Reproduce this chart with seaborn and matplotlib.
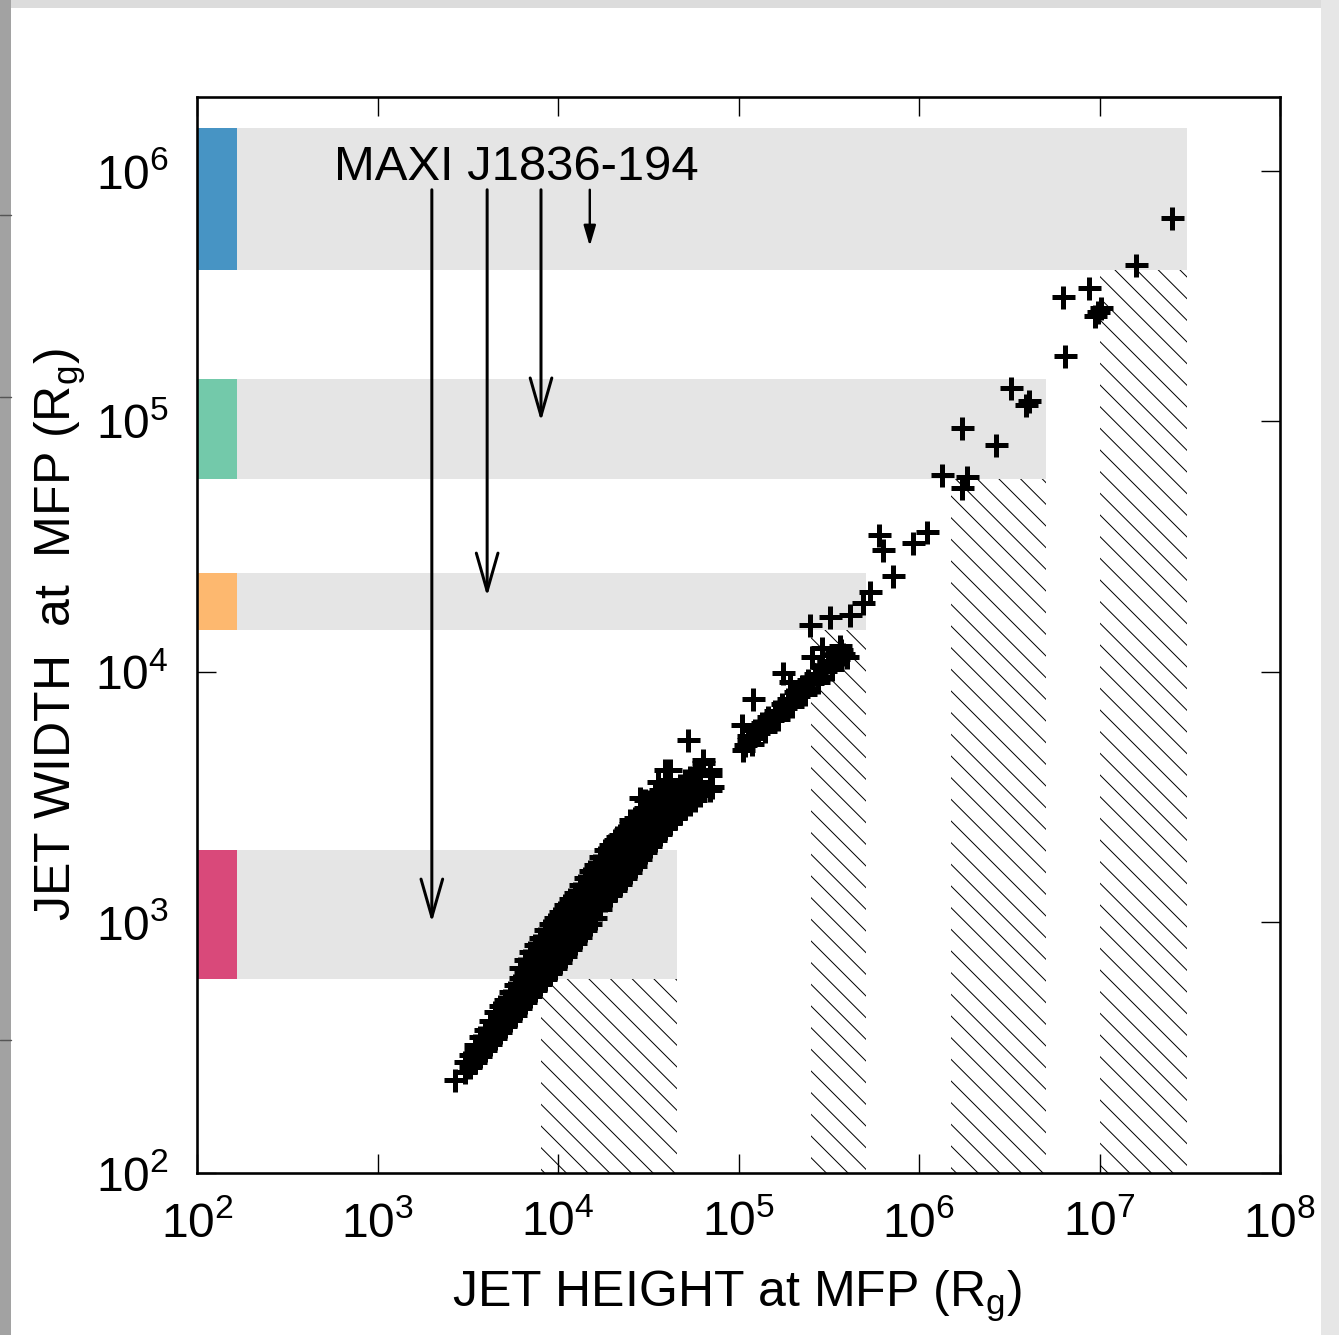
import numpy as np
import pandas as pd
import matplotlib
matplotlib.use("Agg")
import matplotlib.pyplot as plt
from matplotlib.patches import Rectangle
from matplotlib.lines import Line2D
from matplotlib.ticker import LogLocator, NullLocator
import seaborn as sns

# ---------------- data ----------------
# main cluster (jet height, jet width) in R_g
height_a = [2.69e3,
            3.05e3, 3.05e3,
            3.47e3, 3.47e3, 3.47e3,
            3.94e3, 3.94e3, 3.94e3,
            4.48e3, 4.48e3, 4.48e3,
            5.08e3, 5.08e3, 5.08e3,
            5.78e3, 5.78e3, 5.78e3,
            6.56e3, 6.56e3, 6.56e3, 6.56e3,
            7.46e3, 7.46e3, 7.46e3, 7.46e3,
            8.47e3, 8.47e3, 8.47e3, 8.47e3,
            9.62e3, 9.62e3, 9.62e3, 9.62e3,
            1.094e4, 1.094e4, 1.094e4, 1.094e4,
            1.24e4, 1.24e4, 1.24e4, 1.24e4,
            1.41e4, 1.41e4, 1.41e4, 1.41e4,
            1.60e4, 1.60e4, 1.60e4, 1.60e4,
            1.82e4, 1.82e4, 1.82e4, 1.82e4,
            2.07e4, 2.07e4, 2.07e4, 2.07e4,
            2.35e4, 2.35e4, 2.35e4, 2.35e4,
            2.67e4, 2.67e4, 2.67e4, 2.67e4,
            3.03e4, 3.03e4, 3.03e4, 3.03e4, 3.03e4,
            3.44e4, 3.44e4, 3.44e4, 3.44e4,
            3.92e4, 3.92e4, 3.92e4, 3.92e4, 3.92e4,
            4.45e4, 4.45e4, 4.45e4,
            5.06e4, 5.06e4, 5.06e4,
            5.74e4, 5.74e4, 5.74e4,
            5.25e4,
            6.35e4, 6.35e4,
            6.95e4, 6.95e4, 6.95e4,
            7.13e4,
            4.17e4, 3.6e4, 4.94e4, 2.84e4, 3.8e4, 2.51e4, 2.11e4]
width_a = [235,
           253, 277,
           277, 310, 324,
           310, 340, 372,
           346, 390, 440,
           386, 440, 491,
           428, 491, 564,
           482, 548, 634, 708,
           538, 617, 721, 813,
           595, 695, 813, 933,
           658, 776, 916, 1042,
           735, 867, 1023, 1175,
           828, 977, 1143, 1312,
           933, 1102, 1288, 1507,
           1042, 1230, 1452, 1698,
           1230, 1387, 1622, 1945,
           1349, 1549, 1807, 2133,
           1507, 1746, 2018, 2339,
           1683, 1945, 2234, 2612,
           1910, 2173, 2518, 2864, 3083,
           2133, 2427, 2812, 3228,
           2383, 2685, 3141, 3539, 4064,
           2612, 2944, 3379,
           2864, 3228, 3707,
           3083, 3379, 3881,
           5353,
           4335, 4457,
           3379, 3881, 4064,
           3475,
           4064, 3639, 3475, 3141, 3141, 2565, 2200]

# main cluster, in-between columns
height_a2 = [3.25e3, 3.25e3,
             3.70e3, 3.70e3, 3.70e3,
             4.20e3, 4.20e3, 4.20e3,
             4.77e3, 4.77e3, 4.77e3,
             5.42e3, 5.42e3, 5.42e3,
             6.15e3, 6.15e3, 6.15e3, 6.15e3,
             7.00e3, 7.00e3, 7.00e3, 7.00e3,
             7.95e3, 7.95e3, 7.95e3, 7.95e3,
             9.03e3, 9.03e3, 9.03e3, 9.03e3,
             1.03e4, 1.03e4, 1.03e4, 1.03e4,
             1.16e4, 1.16e4, 1.16e4, 1.16e4,
             1.32e4, 1.32e4, 1.32e4, 1.32e4,
             1.50e4, 1.50e4, 1.50e4, 1.50e4,
             1.71e4, 1.71e4, 1.71e4, 1.71e4,
             1.94e4, 1.94e4, 1.94e4, 1.94e4,
             2.20e4, 2.20e4, 2.20e4, 2.20e4,
             2.51e4, 2.51e4, 2.51e4, 2.51e4,
             2.84e4, 2.84e4, 2.84e4, 2.84e4,
             3.23e4, 3.23e4, 3.23e4, 3.23e4,
             3.67e4, 3.67e4, 3.67e4, 3.67e4,
             4.17e4, 4.17e4, 4.17e4, 4.17e4,
             4.74e4, 4.74e4, 4.74e4,
             5.38e4, 5.38e4, 5.38e4,
             6.12e4, 6.12e4, 6.12e4]
width_a2 = [265, 295,
            293, 325, 348,
            328, 365, 405,
            366, 415, 465,
            407, 465, 527,
            455, 519, 598, 660,
            510, 582, 677, 760,
            566, 655, 767, 870,
            626, 735, 865, 985,
            695, 820, 968, 1105,
            780, 920, 1082, 1240,
            878, 1037, 1213, 1405,
            986, 1164, 1368, 1600,
            1132, 1306, 1535, 1820,
            1288, 1466, 1712, 2037,
            1428, 1645, 1910, 2233,
            1593, 1843, 2124, 2470,
            1795, 2056, 2372, 2738,
            2018, 2297, 2661, 3040,
            2255, 2553, 2970, 3380,
            2495, 2812, 3250, 3700,
            2736, 3083, 3540,
            2972, 3303, 3793,
            3220, 3620, 3970]

# second cluster
height_b = [1.087e5, 1.19e5, 1.28e5, 1.40e5, 1.53e5, 1.66e5, 1.81e5, 1.98e5,
            2.14e5, 2.34e5, 2.55e5, 2.76e5, 3.01e5, 3.30e5, 3.56e5, 3.79e5,
            1.13e5, 1.31e5, 1.59e5, 1.93e5, 2.28e5, 2.69e5, 3.13e5, 3.65e5,
            2.90e5, 3.65e5, 2.55e5,
            1.06e5, 1.04e5, 1.20e5, 1.77e5, 1.93e5,
            1.13e5, 1.24e5, 1.35e5, 1.46e5, 1.59e5, 1.74e5, 1.88e5, 2.06e5,
            2.25e5, 2.43e5, 2.65e5, 2.90e5, 3.13e5, 3.43e5, 3.70e5,
            1.19e5, 1.40e5, 1.66e5, 1.98e5, 2.34e5, 2.76e5, 3.30e5, 3.99e5]
width_b = [5.12e3, 5.43e3, 5.71e3, 6.08e3, 6.43e3, 6.79e3, 7.18e3, 7.66e3,
           8.01e3, 8.55e3, 9.03e3, 9.55e3, 1.01e4, 1.08e4, 1.13e4, 1.18e4,
           5.35e3, 5.97e3, 6.79e3, 7.73e3, 8.79e3, 9.82e3, 1.10e4, 1.20e4,
           1.25e4, 1.27e4, 1.15e4,
           4.89e3, 6.14e3, 7.8e3, 9.9e3, 9.1e3,
           5.56e3, 5.86e3, 6.25e3, 6.61e3, 6.98e3, 7.45e3, 7.80e3, 8.32e3,
           8.79e3, 9.29e3, 9.82e3, 1.05e4, 1.11e4, 1.17e4, 1.22e4,
           5.17e3, 5.81e3, 6.49e3, 7.31e3, 8.17e3, 9.12e3, 1.03e4, 1.15e4]

# sparse high points
height_c = [2.49e5, 3.21e5, 4.15e5, 4.90e5, 5.36e5, 7.18e5, 6.0e5, 6.32e5,
            9.27e5, 1.11e6, 1.34e6, 1.85e6, 1.73e6, 1.73e6, 2.67e6, 3.24e6,
            4.06e6, 3.91e6, 6.44e6, 6.28e6, 8.75e6, 9.82e6, 9.45e6, 1.02e7,
            1.59e7, 2.52e7]
width_c = [1.54e4, 1.66e4, 1.69e4, 1.88e4, 2.08e4, 2.42e4, 3.52e4, 3.07e4,
           3.27e4, 3.62e4, 6.11e4, 6.00e4, 5.43e4, 9.42e4, 8.05e4, 1.36e5,
           1.21e5, 1.16e5, 1.82e5, 3.14e5, 3.41e5, 2.74e5, 2.64e5, 2.84e5,
           4.22e5, 6.49e5]

# grey bands (width ranges) with coloured keys
band_low = [4.0e5, 5.87e4, 1.47e4, 597]
band_high = [1.48e6, 1.48e5, 2.48e4, 1.95e3]
band_xend = [3.05e7, 5.05e6, 5.08e5, 4.56e4]
band_colors = ["#4794c4", "#73c9aa", "#fdb86f", "#d9497a"]
key_xend = 166

# hatched regions (height ranges)
hatch_x0 = [8.05e3, 2.52e5, 1.5e6, 1.0e7]
hatch_x1 = [4.56e4, 5.08e5, 5.05e6, 3.05e7]
hatch_top = [597, 1.47e4, 5.87e4, 4.0e5]

# annotation arrows
arrow_x = [2.0e3, 4.05e3, 8.05e3, 1.5e4]
arrow_y0 = [8.4e5, 8.4e5, 8.4e5, 8.4e5]
arrow_y1 = [1.0e3, 2.0e4, 1.0e5, 5.0e5]
source_name = "MAXI J1836-194"

x_lim = (1e2, 1e8)
y_lim = (1e2, 1.97e6)

# ---------------- style ----------------
DPI = 130
def pt(px):
    return px * 72.0 / DPI

sns.set_style("ticks")
plt.rcParams["font.family"] = ["Liberation Sans", "DejaVu Sans"]
plt.rcParams["mathtext.fontset"] = "custom"
plt.rcParams["mathtext.rm"] = "Liberation Sans"
plt.rcParams["mathtext.it"] = "Liberation Sans:italic"
plt.rcParams["mathtext.bf"] = "Liberation Sans:bold"
plt.rcParams["mathtext.default"] = "regular"
plt.rcParams["hatch.linewidth"] = 0.55
plt.rcParams["hatch.color"] = "black"

W, H = 1339, 1335
fig = plt.figure(figsize=(W / DPI, H / DPI), dpi=DPI, facecolor="#dcdcdc")
# page background and screenshot margins
fig.patches.append(Rectangle((11 / W, 0), (1321 - 11) / W, (H - 8) / H,
                             transform=fig.transFigure, facecolor="white",
                             edgecolor="none", zorder=-10))
fig.patches.append(Rectangle((0, 0), 11 / W, 1, transform=fig.transFigure,
                             facecolor="#a2a2a2", edgecolor="none", zorder=-9))
fig.patches.append(Rectangle((1321 / W, 0), 18 / W, 1, transform=fig.transFigure,
                             facecolor="#e6e6e6", edgecolor="none", zorder=-9))
for yy in [215, 397, 1040]:
    fig.add_artist(Line2D([0, 11 / W], [1 - yy / H, 1 - yy / H],
                          transform=fig.transFigure, color="#555555", lw=0.8))

ax = fig.add_axes([197 / W, 1 - 1173 / H, (1280 - 197) / W, (1173 - 97) / H])
ax.set_facecolor("white")

# bands
for lo, hi, xe, col in zip(band_low, band_high, band_xend, band_colors):
    ax.fill_between([x_lim[0], xe], lo, hi, color="#e5e5e5", lw=0, zorder=1)
    ax.fill_between([x_lim[0], key_xend], lo, hi, color=col, lw=0, zorder=2)

# hatched regions
for x0, x1, top in zip(hatch_x0, hatch_x1, hatch_top):
    ax.fill_between([x0, x1], y_lim[0], top, facecolor="none",
                    edgecolor="black", hatch="\\\\", lw=0, zorder=1)

# arrows
for i, (xa, y0, y1) in enumerate(zip(arrow_x, arrow_y0, arrow_y1)):
    if i < 3:
        props = dict(arrowstyle="->,head_length=1.05,head_width=0.3",
                     lw=pt(3.0), color="black", shrinkA=0, shrinkB=0,
                     mutation_scale=20)
    else:
        props = dict(arrowstyle="-|>,head_length=0.95,head_width=0.28",
                     lw=pt(2.4), color="black", shrinkA=0, shrinkB=0,
                     mutation_scale=10)
    ax.annotate("", xy=(xa, y1), xytext=(xa, y0), arrowprops=props, zorder=4)

ax.text(5.75e2, 9.2e5, source_name, ha="left", va="baseline",
        fontsize=pt(49), color="black", zorder=6)

# scatter points
df = pd.DataFrame({
    "height": height_a + height_a2 + height_b + height_c,
    "width": width_a + width_a2 + width_b + width_c,
})
sns.scatterplot(data=df, x="height", y="width", marker="+",
                s=pt(23) ** 2, color="black", linewidth=pt(5.0),
                ax=ax, zorder=5, legend=False)
ax.collections[-1].set_linewidths([pt(5.0)])
ax.collections[-1].set_edgecolor("black")

ax.set_xscale("log")
ax.set_yscale("log")
ax.set_xlim(*x_lim)
ax.set_ylim(*y_lim)
ax.xaxis.set_major_locator(LogLocator(base=10, numticks=20))
ax.yaxis.set_major_locator(LogLocator(base=10, numticks=20))
ax.xaxis.set_minor_locator(NullLocator())
ax.yaxis.set_minor_locator(NullLocator())
ax.tick_params(which="major", direction="in", length=pt(19), width=pt(1.4),
               top=True, right=True, labelsize=pt(48), color="black",
               labelcolor="black")
ax.tick_params(axis="x", pad=pt(28))
ax.tick_params(axis="y", pad=pt(28))
for sp in ax.spines.values():
    sp.set_linewidth(pt(2.6))
    sp.set_color("black")
    sp.set_zorder(7)

ax.set_xlabel("JET HEIGHT at MFP (R$_{g}$)", fontsize=pt(50), color="black")
ax.set_ylabel("JET WIDTH  at  MFP (R$_{g}$)", fontsize=pt(50), color="black")
ax.xaxis.set_label_coords(0.4986, (1173 - 1269) / 1076)
ax.yaxis.set_label_coords((88 - 197) / 1083, 0.5)

fig.savefig("out.png", dpi=DPI, facecolor=fig.get_facecolor())
